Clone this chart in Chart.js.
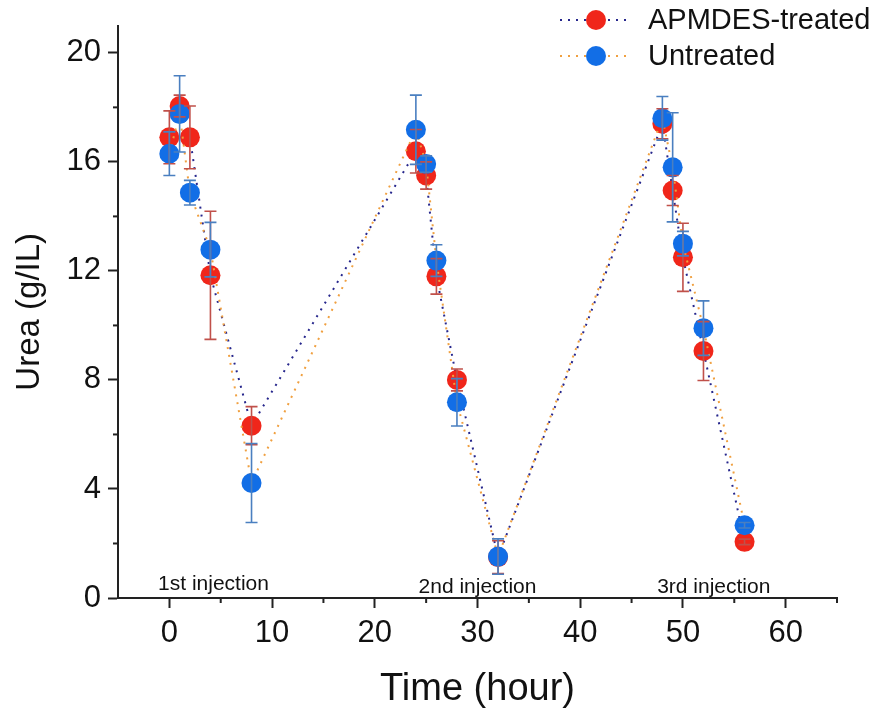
<!DOCTYPE html>
<html>
<head>
<meta charset="utf-8">
<script src="https://cdn.jsdelivr.net/npm/chart.js@4"></script>
<style>
  html,body{margin:0;padding:0;background:#fff;}
  #wrap{width:880px;height:715px;}
</style>
</head>
<body>
<div id="wrap"><canvas id="canvas-urea" width="880" height="715"></canvas></div>
<script>
// time points (hour)
const hours=[0,1,2,4,8,24,25,26,28,32,48,49,50,52,56]
// urea g/L
const apmdes=[16.9,18.05,16.9,11.84,6.32,16.39,15.5,11.8,8.0,1.5,17.4,14.95,12.5,9.06,2.06]
const errApmdes=[0.97,0.4,1.15,2.35,0.7,0.8,0.5,0.65,0.4,0.6,0.55,0.55,1.25,1.08,0.1]
const untreated=[16.3,17.76,14.87,12.78,4.22,17.18,15.92,12.38,7.18,1.52,17.6,15.8,13.0,9.9,2.67]
const errUntreated=[0.8,1.4,0.45,1.0,1.45,1.27,0.3,0.58,0.87,0.65,0.8,2.0,0.45,1.0,0.1]
const seriesNames=["APMDES-treated","Untreated"]
const xTicks=[0,10,20,30,40,50,60]
const xMinor=[5,15,25,35,45,55,65]
const yTicks=[0,4,8,12,16,20]
const yMinor=[2,6,10,14,18]
const injections=[{text:"1st injection",x:4.3,y:0.3},{text:"2nd injection",x:30,y:0.2},{text:"3rd injection",x:53,y:0.2}]

const FONT="'Liberation Sans', Arial, sans-serif"
const canvas_urea=document.querySelector("#canvas-urea")

const toPoints=arr=>arr.map((v,i)=>({x:hours[i],y:v}))

// error bars, drawn on top of the points
const errorBars={
  id:"errorBars",
  afterDatasetsDraw(chart){
    const ctx=chart.ctx
    const y=chart.scales.y
    chart.data.datasets.forEach((ds,di)=>{
      const meta=chart.getDatasetMeta(di)
      ctx.save()
      ctx.strokeStyle=ds.errColor
      ctx.lineWidth=1.6
      meta.data.forEach((pt,i)=>{
        const e=ds.err[i]
        const v=ds.data[i].y
        const top=y.getPixelForValue(v+e)
        const bot=y.getPixelForValue(v-e)
        ctx.beginPath()
        ctx.moveTo(pt.x,top);ctx.lineTo(pt.x,bot)
        ctx.moveTo(pt.x-6,top);ctx.lineTo(pt.x+6,top)
        ctx.moveTo(pt.x-6,bot);ctx.lineTo(pt.x+6,bot)
        ctx.stroke()
      })
      ctx.restore()
    })
  }
}

// minor ticks + injection labels + legend
const extras={
  id:"extras",
  afterDraw(chart){
    const ctx=chart.ctx
    const {x,y}=chart.scales
    const area=chart.chartArea
    ctx.save()
    ctx.strokeStyle="#222"
    ctx.lineWidth=2
    xMinor.forEach(v=>{
      const px=x.getPixelForValue(v)
      ctx.beginPath();ctx.moveTo(px,area.bottom);ctx.lineTo(px,area.bottom+5);ctx.stroke()
    })
    yMinor.forEach(v=>{
      const py=y.getPixelForValue(v)
      ctx.beginPath();ctx.moveTo(area.left,py);ctx.lineTo(area.left-5,py);ctx.stroke()
    })

    ctx.fillStyle="#111"
    ctx.font="21px "+FONT
    ctx.textAlign="center"
    ctx.textBaseline="alphabetic"
    injections.forEach(t=>{
      ctx.fillText(t.text,x.getPixelForValue(t.x),y.getPixelForValue(t.y))
    })

    // legend
    chart.data.datasets.forEach((ds,i)=>{
      const ly=20+i*36
      ctx.save()
      ctx.strokeStyle=ds.borderColor
      ctx.lineWidth=2
      ctx.setLineDash([2,6])
      ctx.beginPath();ctx.moveTo(560,ly);ctx.lineTo(632,ly);ctx.stroke()
      ctx.restore()
      ctx.beginPath()
      ctx.fillStyle=ds.pointBackgroundColor
      ctx.arc(596,ly,10,0,Math.PI*2)
      ctx.fill()
      ctx.fillStyle="#111"
      ctx.font="29px "+FONT
      ctx.textAlign="left"
      ctx.textBaseline="middle"
      ctx.fillText(seriesNames[i],648,ly+1)
    })
    ctx.restore()
  }
}

new Chart(canvas_urea,{
  type:"line",
  data:{
    datasets:[{
      label:seriesNames[0],
      data:toPoints(apmdes),
      err:errApmdes,
      errColor:"#c0504a",
      borderColor:"#26268c",
      borderWidth:2,
      borderDash:[2,6],
      pointRadius:10,
      pointHoverRadius:10,
      pointBackgroundColor:"#f0261a",
      pointBorderColor:"#f0261a",
      pointBorderWidth:0,
      order:1
    },{
      label:seriesNames[1],
      data:toPoints(untreated),
      err:errUntreated,
      errColor:"#4a7fc0",
      borderColor:"#f0a040",
      borderWidth:2,
      borderDash:[2,6],
      pointRadius:10,
      pointHoverRadius:10,
      pointBackgroundColor:"#126ee6",
      pointBorderColor:"#126ee6",
      pointBorderWidth:0,
      order:0
    }]
  },
  options:{
    responsive:false,
    animation:false,
    layout:{padding:{top:15,right:43,left:0,bottom:0}},
    plugins:{
      legend:{display:false},
      tooltip:{enabled:false},
      title:{display:false}
    },
    scales:{
      x:{
        type:"linear",
        min:-5,
        max:65,
        afterBuildTicks:s=>{s.ticks=xTicks.map(v=>({value:v}))},
        afterFit:s=>{s.height=117},
        border:{display:true,color:"#222",width:2},
        grid:{drawOnChartArea:false,tickLength:10,tickColor:"#222",tickWidth:2},
        ticks:{color:"#111",font:{family:FONT,size:31},padding:7,maxRotation:0},
        title:{display:true,text:"Time (hour)",color:"#111",font:{family:FONT,size:38,lineHeight:1.2},padding:{top:0,bottom:3}}
      },
      y:{
        min:0,
        max:21,
        afterBuildTicks:s=>{s.ticks=yTicks.map(v=>({value:v}))},
        afterFit:s=>{s.width=118},
        border:{display:true,color:"#222",width:2},
        grid:{drawOnChartArea:false,tickLength:10,tickColor:"#222",tickWidth:2},
        ticks:{color:"#111",font:{family:FONT,size:31},padding:7},
        title:{display:true,text:"Urea (g/IL)",color:"#111",font:{family:FONT,size:33,lineHeight:1.2},padding:{top:10,bottom:0}}
      }
    }
  },
  plugins:[errorBars,extras]
})
</script>
</body>
</html>
